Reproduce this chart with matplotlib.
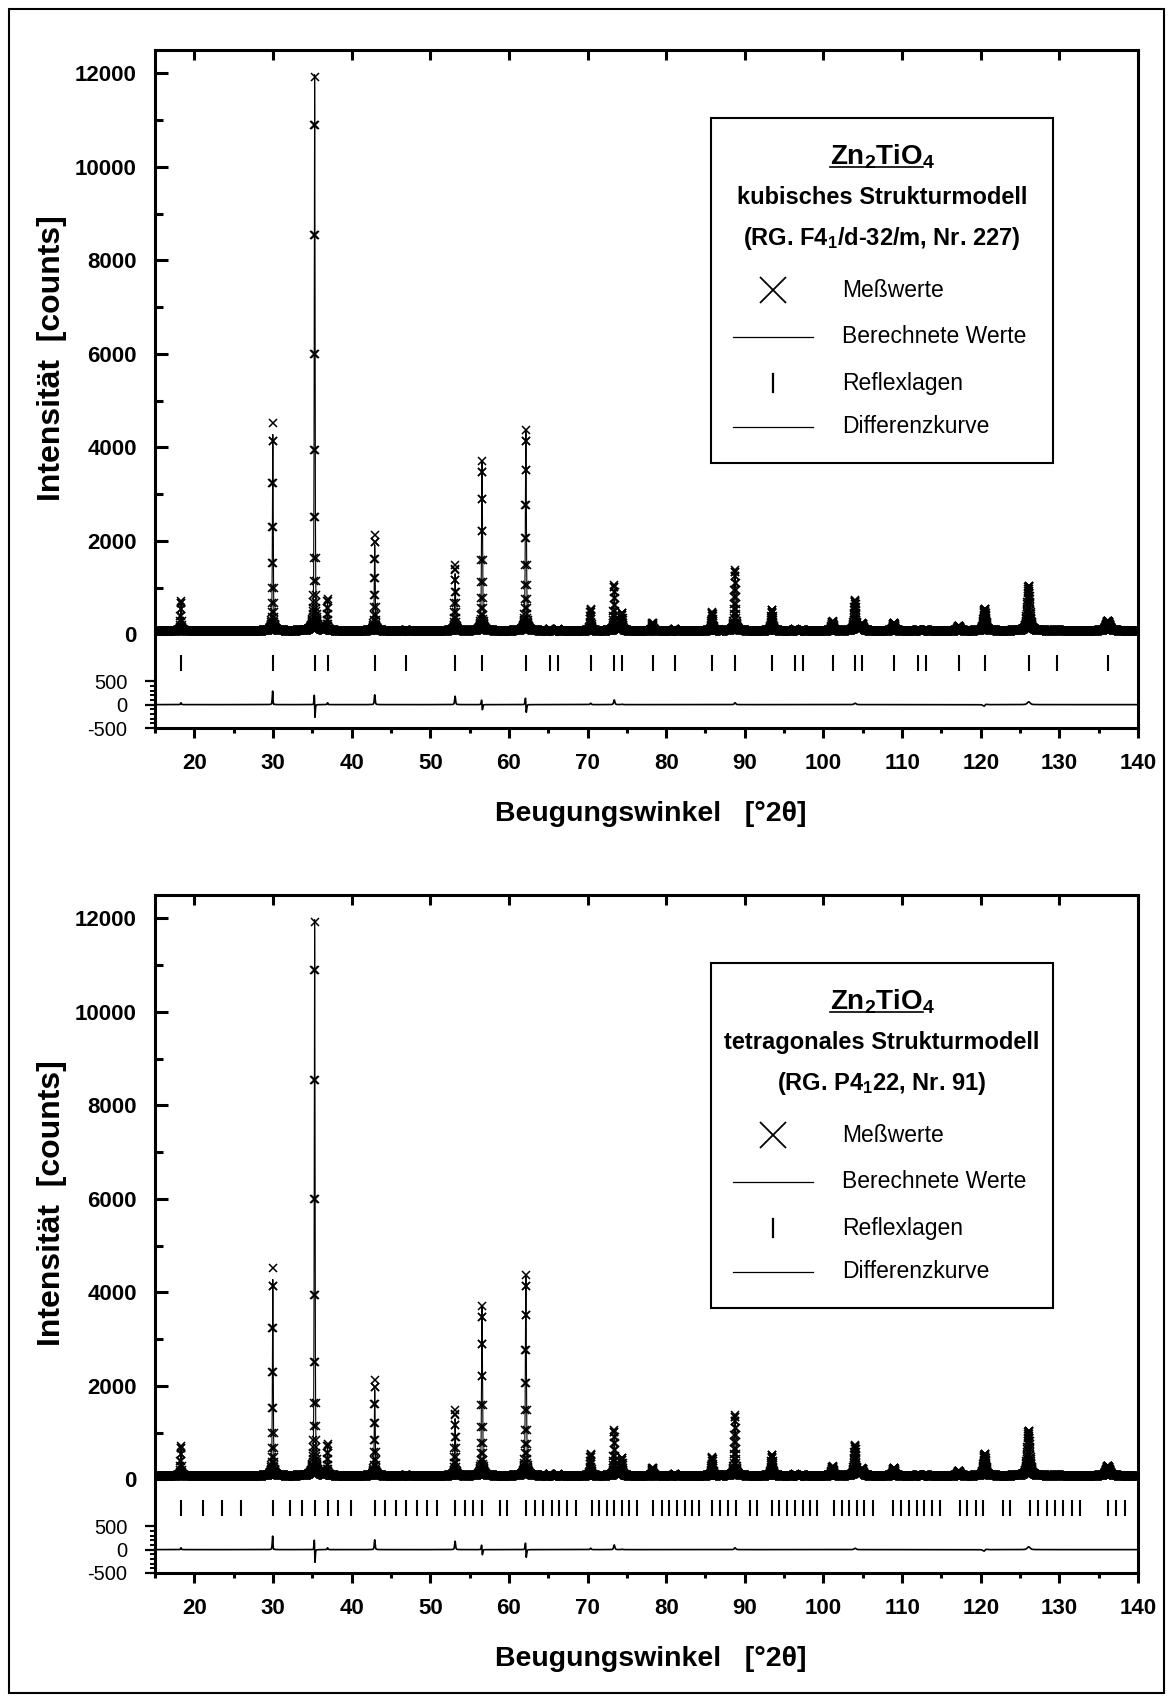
import numpy as np
import matplotlib.pyplot as plt
from matplotlib.patches import Rectangle
from matplotlib.ticker import MultipleLocator, FixedLocator

plt.rcParams['font.family'] = ['Liberation Sans', 'DejaVu Sans']
plt.rcParams['mathtext.default'] = 'regular'

# measurement grid [°2θ], flat background and offset of the difference curve
start, stop, step = 15.0, 140.0, 0.02
background = 80.0
diff_offset = -1500.0

# reflections of the pattern: position, observed / calculated height above
# background, half width and small shift of the calculated peak
peak_pos = [18.30, 29.98, 35.30, 36.94, 42.94, 46.92, 53.16, 56.58, 62.16,
            65.22, 66.28, 70.40, 73.40, 74.40, 78.28, 81.10, 85.86, 88.76,
            93.46, 96.36, 97.36, 101.16, 104.02, 104.96, 108.96, 112.04,
            113.06, 117.22, 120.52, 126.10, 129.66, 136.18]
peak_obs = [640, 4440, 11850, 680, 2050, 20, 1400, 3630, 4300,
            40, 30, 470, 980, 380, 170, 30, 400, 1300,
            450, 30, 20, 200, 650, 150, 170, 20,
            20, 100, 470, 960, 20, 210]
peak_calc = [600, 4200, 11900, 640, 1840, 20, 1220, 3640, 4320,
             40, 30, 440, 880, 370, 170, 30, 400, 1260,
             450, 30, 20, 200, 620, 150, 170, 20,
             20, 100, 490, 900, 20, 210]
peak_shift = [0.0, 0.002, 0.0018, 0.0, 0.0, 0.0, 0.0, 0.003, 0.004,
              0.0, 0.0, 0.0, 0.0, 0.0, 0.0, 0.0, 0.0, 0.0,
              0.0, 0.0, 0.0, 0.0, 0.0, 0.0, 0.0, 0.0,
              0.0, 0.0, -0.01, 0.0, 0.0, 0.0]
peak_fwhm = [0.12, 0.12, 0.12, 0.12, 0.13, 0.13, 0.14, 0.14, 0.15,
             0.16, 0.16, 0.17, 0.18, 0.18, 0.19, 0.20, 0.21, 0.22,
             0.24, 0.25, 0.25, 0.27, 0.28, 0.28, 0.30, 0.32,
             0.32, 0.35, 0.37, 0.42, 0.45, 0.55]

# reflection markers of the two structure models
refl_cubic = [18.30, 29.98, 35.30, 36.94, 42.94, 46.92, 53.16, 56.58, 62.16,
              65.22, 66.28, 70.40, 73.40, 74.40, 78.28, 81.10, 85.86, 88.76,
              93.46, 96.36, 97.36, 101.16, 104.02, 104.96, 108.96, 112.04,
              113.06, 117.22, 120.52, 126.10, 129.66, 136.18]
refl_tetra = [18.30, 21.07, 23.56, 25.90, 29.98, 32.17, 33.65, 35.30, 36.94,
              38.31, 39.92, 42.94, 44.25, 45.65, 46.92, 48.28, 49.55, 50.82,
              53.16, 54.42, 55.48, 56.58, 58.87, 59.72, 62.16, 63.32, 64.38,
              65.44, 66.37, 67.43, 68.50, 70.53, 71.50, 72.44, 73.40, 74.35,
              75.31, 76.25, 78.37, 79.43, 80.40, 81.42, 82.40, 83.33, 84.18,
              85.79, 86.85, 87.90, 88.88, 90.66, 91.59, 93.42, 94.39, 95.33,
              96.38, 97.36, 98.29, 99.14, 101.35, 102.3, 103.3, 104.3, 105.2,
              106.3, 108.9, 109.8, 110.9, 111.9, 112.8, 113.8, 114.8, 117.4,
              118.3, 119.4, 120.3, 122.8, 123.7, 126.3, 127.3, 128.4, 129.4,
              130.5, 131.6, 132.6, 136.2, 137.2, 138.3]

y_ticks = [0, 2000, 4000, 6000, 8000, 10000, 12000]
x_ticks = [20, 30, 40, 50, 60, 70, 80, 90, 100, 110, 120, 130, 140]
diff_ticks = [500, 0, -500]


def pseudo_voigt(x, pos, height, fwhm, eta=0.5):
    dx = (x - pos) / (fwhm / 2.0)
    lor = 1.0 / (1.0 + dx ** 2)
    gau = np.exp(-np.log(2.0) * dx ** 2)
    return height * (eta * lor + (1.0 - eta) * gau)


def pattern(x, heights, shifts):
    y = np.full_like(x, background)
    for p, h, w, s in zip(peak_pos, heights, peak_fwhm, shifts):
        y += pseudo_voigt(x, p + s, h, w)
    return y


x = np.arange(start, stop + step / 2, step)
y_obs = pattern(x, peak_obs, [0.0] * len(peak_pos))
y_calc = pattern(x, peak_calc, peak_shift)
y_diff = y_obs - y_calc


def setup_axes(ax):
    ax.set_xlim(start, stop)
    ax.set_ylim(-2000, 12500)
    for sp in ax.spines.values():
        sp.set_linewidth(2.2)

    # top ticks point inwards, bottom ticks outwards
    top = ax.twiny()
    top.set_xlim(start, stop)
    top.set_xticks(x_ticks, labels=[])
    top.tick_params(axis='x', direction='in', length=7.2, width=2.2)
    for sp in top.spines.values():
        sp.set_visible(False)

    # ticks for the difference curve, outside the frame
    dax = ax.twinx()
    dax.set_ylim(-2000, 12500)
    dax.yaxis.tick_left()
    dax.set_yticks([diff_offset + d for d in diff_ticks],
                   labels=[str(d) for d in diff_ticks], fontsize=14.5)
    dax.yaxis.set_minor_locator(FixedLocator(
        [diff_offset + d for d in range(-400, 500, 100) if d != 0]))
    dax.tick_params(axis='y', which='major', direction='out', length=7,
                    width=1.6, pad=13)
    dax.tick_params(axis='y', which='minor', direction='out', length=3.8,
                    width=1.4)
    for sp in dax.spines.values():
        sp.set_visible(False)

    ax.set_xticks(x_ticks, labels=[str(t) for t in x_ticks],
                  fontsize=16, fontweight='bold')
    ax.xaxis.set_minor_locator(MultipleLocator(5))
    ax.tick_params(axis='x', which='major', direction='out', length=7.2,
                   width=2.2, pad=10.5)
    ax.tick_params(axis='x', which='minor', direction='out', length=3.6,
                   width=2.2)
    ax.set_yticks(y_ticks, labels=[str(t) for t in y_ticks],
                  fontsize=16, fontweight='bold')
    ax.yaxis.set_minor_locator(FixedLocator(range(1000, 12000, 2000)))
    ax.tick_params(axis='y', which='major', direction='in', length=9.4,
                   width=2.2, pad=13)
    ax.tick_params(axis='y', which='minor', direction='in', length=5.8,
                   width=2.2)


def draw_key(ax, model, group):
    ax.add_patch(Rectangle((0.5656, 0.391), 0.348, 0.509,
                           transform=ax.transAxes, fc='white', ec='black',
                           lw=1.5, zorder=5))
    cx = 0.7396
    title = ax.text(cx, 0.842, 'Zn$_2$TiO$_4$', transform=ax.transAxes,
                    ha='center', va='center', fontsize=20,
                    fontweight='bold', zorder=6)
    ax.text(cx, 0.783, model, transform=ax.transAxes, ha='center',
            va='center', fontsize=17, fontweight='bold', zorder=6)
    ax.text(cx, 0.7227, group, transform=ax.transAxes, ha='center',
            va='center', fontsize=17, fontweight='bold', zorder=6)

    rows = [0.646, 0.5767, 0.5088, 0.444]
    names = ['Meßwerte', 'Berechnete Werte', 'Reflexlagen', 'Differenzkurve']
    for yy, name in zip(rows, names):
        ax.text(0.699, yy, name, transform=ax.transAxes, ha='left',
                va='center', fontsize=16.5, zorder=6)
    kw = dict(transform=ax.transAxes, color='black', zorder=6,
              clip_on=False)
    ax.plot([0.6287], [rows[0]], marker='x', ms=19, mew=1.3, ls='none', **kw)
    ax.plot([0.588, 0.669], [rows[1], rows[1]], lw=0.9, **kw)
    ax.plot([0.6287, 0.6287], [rows[2] - 0.013, rows[2] + 0.013],
            lw=1.6, **kw)
    ax.plot([0.588, 0.669], [rows[3], rows[3]], lw=0.9, **kw)
    return title


def draw_panel(ax, refl, model, group):
    ax.plot(x, y_obs, ls='none', marker='x', ms=5.5, mew=1.1, color='black')
    ax.plot(x, y_calc, color='black', lw=0.8)
    ax.vlines(refl, -790, -430, color='black', lw=1.5)
    ax.plot(x, y_diff + diff_offset, color='black', lw=1.2)
    setup_axes(ax)
    return draw_key(ax, model, group)


W, H = 1173, 1702
fig = plt.figure(figsize=(W / 100, H / 100), dpi=100)

panels = [
    (50, refl_cubic, 'kubisches Strukturmodell',
     '(RG. F4$_1$/d-32/m, Nr. 227)'),
    (895, refl_tetra, 'tetragonales Strukturmodell',
     '(RG. P4$_1$22, Nr. 91)'),
]
titles = []
for top_px, refl, model, group in panels:
    ax = fig.add_axes([155 / W, 1 - (top_px + 678) / H, 983 / W, 678 / H])
    titles.append((ax, draw_panel(ax, refl, model, group)))
    fig.text(52 / W, 1 - (top_px + 308) / H, 'Intensität  [counts]',
             rotation=90, ha='center', va='center', fontsize=23,
             fontweight='bold')
    fig.text(651 / W, 1 - (top_px + 764) / H, 'Beugungswinkel   [°2θ]',
             ha='center', va='center', fontsize=20.5, fontweight='bold')

fig.add_artist(Rectangle((9 / W, 9 / H), 1155 / W, 1684 / H,
                         transform=fig.transFigure, fill=False, lw=1.5))

# underline the formula in each key
fig.canvas.draw()
for ax, title in titles:
    bb = title.get_window_extent().transformed(ax.transAxes.inverted())
    ax.plot([bb.x0, bb.x0 + 0.895 * bb.width], [0.8272, 0.8272],
            transform=ax.transAxes, color='black', lw=1.2, zorder=6)

fig.savefig('out.png', dpi=100)
